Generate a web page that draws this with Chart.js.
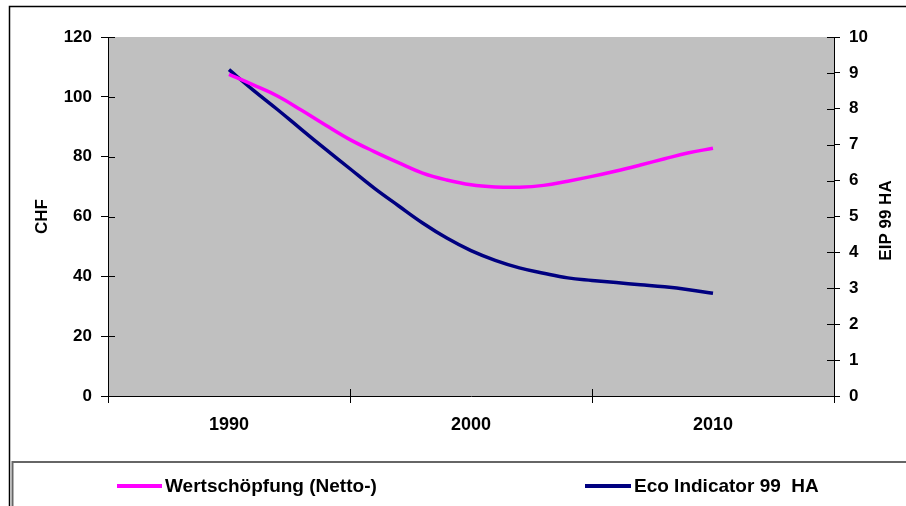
<!DOCTYPE html>
<html lang="de">
<head>
    <meta charset="UTF-8">
    <title>Wertschöpfung und Eco Indicator 99</title>
    <script src="https://cdn.jsdelivr.net/npm/chart.js"></script>
    <style>
        body {
            margin: 0;
            background-color: #ffffff;
        }
        .chart-box {
            width: 906px;
            height: 506px;
        }
    </style>
</head>
<body>
    <div class="chart-box">
        <canvas id="mainChart" width="906" height="506"></canvas>
    </div>

    <script>
        // years on the x axis
        const years = [1990, 1991, 1992, 1993, 1994, 1995, 1996, 1997, 1998, 1999, 2000,
                       2001, 2002, 2003, 2004, 2005, 2006, 2007, 2008, 2009, 2010];

        // Wertschöpfung (Netto-) in CHF, left axis
        const wertschoepfung = [107.5, 104, 100.3, 95.5, 90.5, 85.7, 81.7, 78, 74.5, 72.2, 70.6,
                                69.9, 69.8, 70.4, 71.8, 73.4, 75.2, 77.2, 79.3, 81.3, 82.8];

        // Eco Indicator 99 HA, right axis
        const ecoIndicator = [9.09, 8.52, 7.98, 7.42, 6.87, 6.33, 5.79, 5.3, 4.82, 4.4, 4.05,
                              3.78, 3.57, 3.42, 3.29, 3.22, 3.16, 3.1, 3.04, 2.96, 2.86];

        const xLabelYears = [1990, 2000, 2010];
        const seriesNames = ['Wertschöpfung (Netto-)', 'Eco Indicator 99  HA'];
        const axisTitles = ['CHF', 'EIP 99 HA'];

        const fontFamily = '"Liberation Sans", Arial, Helvetica, sans-serif';

        // grey plot area
        const plotBackground = {
            id: 'plotBackground',
            beforeDraw(chart) {
                const { ctx, chartArea: a } = chart;
                ctx.save();
                ctx.fillStyle = '#c0c0c0';
                ctx.fillRect(a.left, a.top, a.right - a.left, a.bottom - a.top);
                ctx.restore();
            }
        };

        // frame, inner tick marks, right title and legend box
        const decorations = {
            id: 'decorations',
            afterDraw(chart) {
                const { ctx, chartArea: a, scales } = chart;
                ctx.save();

                // inner half of the tick marks
                ctx.strokeStyle = '#000';
                ctx.lineWidth = 1;
                ctx.beginPath();
                scales.y.ticks.forEach(t => {
                    const y = Math.round(scales.y.getPixelForValue(t.value)) + 0.5;
                    ctx.moveTo(a.left, y);
                    ctx.lineTo(a.left + 7, y);
                });
                scales.y1.ticks.forEach(t => {
                    const y = Math.round(scales.y1.getPixelForValue(t.value)) + 0.5;
                    ctx.moveTo(a.right, y);
                    ctx.lineTo(a.right - 7, y);
                });
                scales.x.ticks.forEach(t => {
                    if (t.value % 10 !== 5) return;
                    const x = Math.round(scales.x.getPixelForValue(t.value)) + 0.5;
                    ctx.moveTo(x, a.bottom);
                    ctx.lineTo(x, a.bottom - 7);
                });
                ctx.stroke();

                // outer frame
                ctx.strokeStyle = '#000';
                ctx.lineWidth = 1.5;
                ctx.beginPath();
                ctx.moveTo(9.5, 506);
                ctx.lineTo(9.5, 6.5);
                ctx.lineTo(906, 6.5);
                ctx.stroke();

                // legend box
                ctx.strokeStyle = '#666';
                ctx.lineWidth = 2;
                ctx.beginPath();
                ctx.moveTo(12.5, 506);
                ctx.lineTo(12.5, 462);
                ctx.lineTo(906, 462);
                ctx.stroke();

                // right axis title, reading bottom to top
                ctx.fillStyle = '#000';
                ctx.font = 'bold 17px ' + fontFamily;
                ctx.textAlign = 'center';
                ctx.textBaseline = 'middle';
                ctx.translate(886, (a.top + a.bottom) / 2 + 4);
                ctx.rotate(-Math.PI / 2);
                ctx.fillText(axisTitles[1], 0, 0);
                ctx.setTransform(1, 0, 0, 1, 0, 0);

                // legend
                const items = [
                    { x0: 117, x1: 162, tx: 165 },
                    { x0: 585, x1: 631, tx: 634 }
                ];
                ctx.font = 'bold 19px ' + fontFamily;
                ctx.textAlign = 'left';
                chart.data.datasets.forEach((ds, i) => {
                    const it = items[i];
                    ctx.strokeStyle = ds.borderColor;
                    ctx.lineWidth = 4;
                    ctx.beginPath();
                    ctx.moveTo(it.x0, 486);
                    ctx.lineTo(it.x1, 486);
                    ctx.stroke();
                    ctx.fillText(ds.label, it.tx, 487);
                });

                ctx.restore();
            }
        };

        const ctx = document.getElementById('mainChart').getContext('2d');
        new Chart(ctx, {
            type: 'line',
            data: {
                datasets: [{
                    label: seriesNames[0],
                    data: years.map((yr, i) => ({ x: yr, y: wertschoepfung[i] })),
                    borderColor: '#ff00ff',
                    borderWidth: 3.5,
                    pointRadius: 0,
                    tension: 0.4,
                    yAxisID: 'y'
                }, {
                    label: seriesNames[1],
                    data: years.map((yr, i) => ({ x: yr, y: ecoIndicator[i] })),
                    borderColor: '#000080',
                    borderWidth: 3.5,
                    pointRadius: 0,
                    tension: 0.4,
                    yAxisID: 'y1'
                }]
            },
            options: {
                responsive: false,
                animation: false,
                devicePixelRatio: 1,
                layout: {
                    padding: { top: 37, right: 0, bottom: 0, left: 0 }
                },
                plugins: {
                    legend: { display: false },
                    tooltip: { enabled: false }
                },
                scales: {
                    x: {
                        type: 'linear',
                        min: 1985,
                        max: 2015,
                        afterFit: scale => { scale.height = 110; },
                        border: { color: '#000', width: 1 },
                        grid: {
                            drawOnChartArea: false,
                            tickLength: 7,
                            tickColor: c => (c.tick && c.tick.value % 10 === 5) ? '#000' : 'rgba(0,0,0,0)'
                        },
                        ticks: {
                            stepSize: 5,
                            autoSkip: false,
                            maxRotation: 0,
                            padding: 11,
                            color: '#000',
                            font: { family: fontFamily, size: 18, weight: 'bold' },
                            callback: v => xLabelYears.includes(v) ? String(v) : ''
                        }
                    },
                    y: {
                        position: 'left',
                        min: 0,
                        max: 120,
                        afterFit: scale => { scale.width = 108; },
                        border: { color: '#000', width: 1 },
                        grid: { drawOnChartArea: false, tickLength: 7, tickColor: '#000' },
                        ticks: {
                            stepSize: 20,
                            padding: 9,
                            color: '#000',
                            font: { family: fontFamily, size: 17, weight: 'bold' }
                        },
                        title: {
                            display: true,
                            text: axisTitles[0],
                            color: '#000',
                            padding: { top: 32, bottom: 0 },
                            font: { family: fontFamily, size: 17, weight: 'bold' }
                        }
                    },
                    y1: {
                        position: 'right',
                        min: 0,
                        max: 10,
                        afterFit: scale => { scale.width = 72; },
                        border: { color: '#000', width: 1 },
                        grid: { drawOnChartArea: false, tickLength: 6, tickColor: '#000' },
                        ticks: {
                            stepSize: 1,
                            padding: 9,
                            color: '#000',
                            font: { family: fontFamily, size: 17, weight: 'bold' }
                        }
                    }
                }
            },
            plugins: [plotBackground, decorations]
        });
    </script>
</body>
</html>
